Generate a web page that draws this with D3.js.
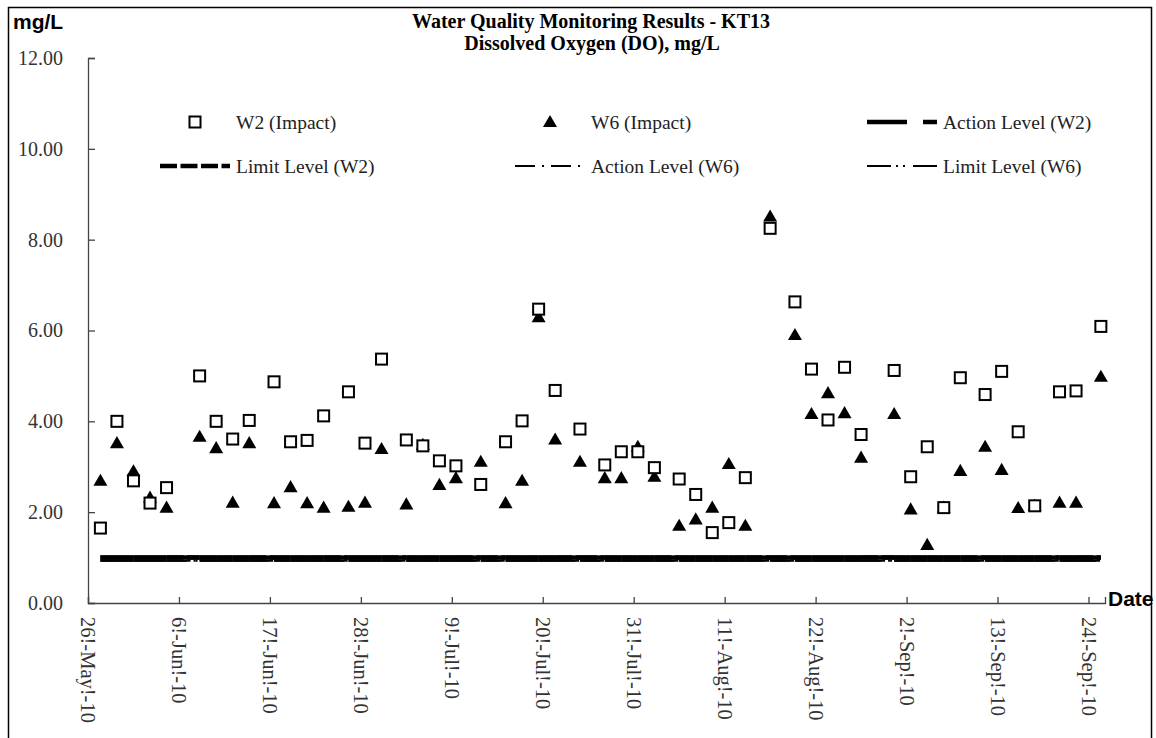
<!DOCTYPE html>
<html><head><meta charset="utf-8">
<script src="https://cdn.jsdelivr.net/npm/d3@7"></script>
<style>body{margin:0;background:#fff} svg{display:block}</style>
</head><body><svg id="c" width="1156" height="738"></svg>
<script>
// ---------- data ----------
const sampleDates = ["2010-05-27","2010-05-29","2010-05-31","2010-06-02","2010-06-04","2010-06-08","2010-06-10","2010-06-12","2010-06-14","2010-06-17","2010-06-19","2010-06-21","2010-06-23","2010-06-26","2010-06-28","2010-06-30","2010-07-03","2010-07-05","2010-07-07","2010-07-09","2010-07-12","2010-07-15","2010-07-17","2010-07-19","2010-07-21","2010-07-24","2010-07-27","2010-07-29","2010-07-31","2010-08-02","2010-08-05","2010-08-07","2010-08-09","2010-08-11","2010-08-13","2010-08-16","2010-08-19","2010-08-21","2010-08-23","2010-08-25","2010-08-27","2010-08-31","2010-09-02","2010-09-04","2010-09-06","2010-09-08","2010-09-11","2010-09-13","2010-09-15","2010-09-17","2010-09-20","2010-09-22","2010-09-25"];
const w2Values = [1.65,4.00,2.69,2.20,2.54,5.00,4.00,3.61,4.02,4.87,3.55,3.58,4.12,4.65,3.52,5.37,3.59,3.46,3.13,3.02,2.61,3.55,4.01,6.47,4.68,3.83,3.04,3.33,3.33,2.98,2.73,2.39,1.55,1.77,2.76,8.25,6.63,5.15,4.03,5.19,3.71,5.12,2.78,3.44,2.10,4.96,4.59,5.10,3.77,2.14,4.65,4.67,6.09];
const w6Values = [2.69,3.52,2.90,2.32,2.10,3.66,3.41,2.21,3.52,2.20,2.55,2.20,2.10,2.12,2.21,3.39,2.17,3.48,2.60,2.75,3.11,2.20,2.69,6.29,3.60,3.11,2.75,2.75,3.44,2.78,1.70,1.84,2.10,3.06,1.70,8.51,5.90,4.16,4.62,4.18,3.20,4.16,2.06,1.28,2.10,2.91,3.44,2.93,2.09,2.14,2.21,2.21,4.98];
const actionLevelW2 = 1.00;
const limitLevelW2 = 1.00;
const actionLevelW6 = 0.93;
const limitLevelW6 = 0.93;
const xTickDates = ["2010-05-26","2010-06-06","2010-06-17","2010-06-28","2010-07-09","2010-07-20","2010-07-31","2010-08-11","2010-08-22","2010-09-02","2010-09-13","2010-09-24"];
const xTickLabels = ["26!-May!-10","6!-Jun!-10","17!-Jun!-10","28!-Jun!-10","9!-Jul!-10","20!-Jul!-10","31!-Jul!-10","11!-Aug!-10","22!-Aug!-10","2!-Sep!-10","13!-Sep!-10","24!-Sep!-10"];
const yTicks = [0,2,4,6,8,10,12];
const yTickLabels = ["0.00","2.00","4.00","6.00","8.00","10.00","12.00"];
const legendNames = ["W2 (Impact)","W6 (Impact)","Action Level (W2)","Limit Level (W2)","Action Level (W6)","Limit Level (W6)"];

// ---------- setup ----------
const svg = d3.select("#c");
const parse = d3.utcParse("%Y-%m-%d");
const dates = sampleDates.map(parse);
const x = d3.scaleUtc().domain([parse("2010-05-26"), parse("2010-09-26")]).range([88, 1105]);
const y = d3.scaleLinear().domain([0, 12]).range([603, 58]);
const px = d => x(d3.utcHour.offset(d, 12));   // points centred in their day slot
const serif = "'Liberation Serif','Times New Roman',serif";
const narrow = "'Liberation Sans Narrow','Arial Narrow','Liberation Sans',sans-serif";

// outer border
svg.append("rect").attr("x", 8.5).attr("y", 7.5).attr("width", 1143).attr("height", 740)
  .attr("fill", "none").attr("stroke", "#000").attr("stroke-width", 1.5);

// titles
svg.append("text").attr("x", 591).attr("y", 28).attr("text-anchor", "middle")
  .style("font", `bold 20px ${serif}`).text("Water Quality Monitoring Results - KT13");
svg.append("text").attr("x", 592).attr("y", 50).attr("text-anchor", "middle")
  .style("font", `bold 20px ${serif}`).text("Dissolved Oxygen (DO), mg/L");
svg.append("text").attr("x", 13).attr("y", 29)
  .style("font", `bold 21px ${narrow}`).text("mg/L");
svg.append("text").attr("x", 1108).attr("y", 606)
  .style("font", `bold 21px ${narrow}`).text("Date");

// y axis
const yAxis = d3.axisLeft(y).tickValues(yTicks).tickSize(-7)
  .tickFormat((d, i) => yTickLabels[i]);
const gy = svg.append("g").attr("transform", "translate(88,0)").call(yAxis);
gy.select(".domain").attr("stroke", "#444").attr("stroke-width", 1.3);
gy.selectAll(".tick line").attr("stroke", "#444").attr("stroke-width", 1.3);
gy.selectAll(".tick text").style("font", `20px ${serif}`).attr("fill", "#333").attr("x", -25);

// x axis
const xAxis = d3.axisBottom(x).tickValues(xTickDates.map(parse)).tickSize(-6)
  .tickFormat((d, i) => xTickLabels[i]);
const gx = svg.append("g").attr("transform", "translate(0,603)").call(xAxis);
gx.select(".domain").attr("stroke", "#444").attr("stroke-width", 1.3);
gx.selectAll(".tick line").attr("stroke", "#444").attr("stroke-width", 1.3);
gx.selectAll(".tick text").style("font", `20.5px ${serif}`).attr("fill", "#333")
  .attr("transform", "rotate(90)").attr("text-anchor", "start")
  .attr("x", 14).attr("y", 0).attr("dy", "0.35em");

// level lines: Excel restarts dash pattern on each segment
const levelStyles = [
  {v: actionLevelW6, w: 2, dash: "20,7,2,7"},
  {v: limitLevelW6, w: 2, dash: "24,5,2,5,2,8"},
  {v: limitLevelW2, w: 4.5, dash: "17,3.5"},
  {v: actionLevelW2, w: 4.5, dash: "40,16"},
];
const gl = svg.append("g");
levelStyles.forEach(s => {
  for (let i = 0; i < dates.length - 1; i++) {
    gl.append("line").attr("x1", px(dates[i])).attr("x2", px(dates[i + 1]))
      .attr("y1", y(s.v)).attr("y2", y(s.v))
      .attr("stroke", "#000").attr("stroke-width", s.w).attr("stroke-dasharray", s.dash);
  }
});

// markers
const tri = d3.symbol().type(d3.symbolTriangle).size(85);
svg.append("g").selectAll("path").data(dates).join("path")
  .attr("d", tri).attr("transform", (d, i) => `translate(${px(d)},${y(w6Values[i]) + 1})`)
  .attr("fill", "#000");
svg.append("g").selectAll("rect").data(dates).join("rect")
  .attr("x", d => px(d) - 5.5).attr("y", (d, i) => y(w2Values[i]) - 5.5)
  .attr("width", 11).attr("height", 11)
  .attr("fill", "#fff").attr("stroke", "#000").attr("stroke-width", 2);

// legend
const lg = svg.append("g");
const colX = [160, 515, 867], rowY = [122, 166];
lg.append("rect").attr("x", colX[0] + 35 - 5.5).attr("y", rowY[0] - 5.5).attr("width", 11).attr("height", 11)
  .attr("fill", "#fff").attr("stroke", "#000").attr("stroke-width", 2);
lg.append("path").attr("d", tri).attr("transform", `translate(${colX[1] + 35},${rowY[0] + 1})`).attr("fill", "#000");
const legLines = [
  {c: 2, r: 0, s: levelStyles[3]},
  {c: 0, r: 1, s: levelStyles[2]},
  {c: 1, r: 1, s: levelStyles[0]},
  {c: 2, r: 1, s: levelStyles[1]},
];
legLines.forEach(l => {
  lg.append("line").attr("x1", colX[l.c]).attr("x2", colX[l.c] + 70)
    .attr("y1", rowY[l.r]).attr("y2", rowY[l.r])
    .attr("stroke", "#000").attr("stroke-width", l.s.w).attr("stroke-dasharray", l.s.dash);
});
const legPos = [[0,0],[1,0],[2,0],[0,1],[1,1],[2,1]];
legendNames.forEach((n, i) => {
  const [c, r] = legPos[i];
  lg.append("text").attr("x", colX[c] + 76).attr("y", rowY[r]).attr("dy", "0.35em")
    .style("font", `19.5px ${serif}`).attr("fill", "#222").text(n);
});
</script></body></html>
